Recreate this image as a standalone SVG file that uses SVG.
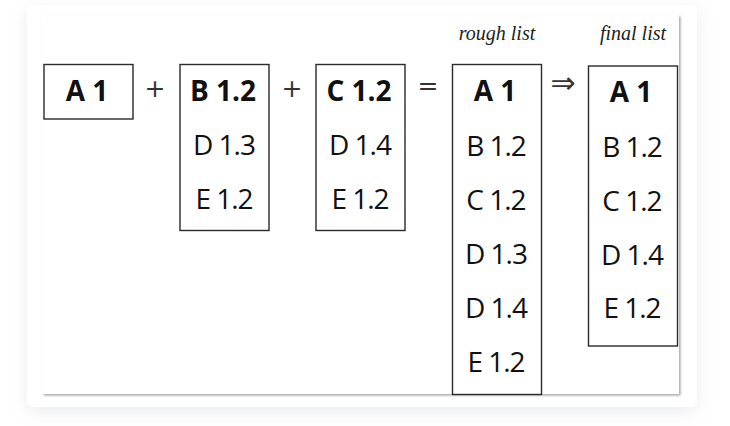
<svg xmlns="http://www.w3.org/2000/svg" width="730" height="426" viewBox="0 0 730 426">
<defs>
<filter id="cardShadow" x="-10%" y="-10%" width="120%" height="125%">
<feDropShadow dx="0" dy="4" stdDeviation="8" flood-color="#8a90a0" flood-opacity="0.18"/>
</filter>
<filter id="panelShadow" x="-5%" y="-5%" width="110%" height="110%">
<feDropShadow dx="1.5" dy="1.5" stdDeviation="1.2" flood-color="#000" flood-opacity="0.35"/>
</filter>
</defs>
<style>
.box{fill:#fff;stroke:#2a2a2a;stroke-width:1.4}
.item{font-family:"Open Sans","Noto Sans",sans-serif;font-size:28px;fill:#111;text-anchor:middle;letter-spacing:-1px}
.bold{font-weight:700;letter-spacing:0px}
.cap{font-family:"Liberation Serif",serif;font-style:italic;font-size:20px;fill:#222;text-anchor:middle}
.op{font-family:"DejaVu Sans",sans-serif;font-size:25px;fill:#333;text-anchor:middle}
.arr{font-size:30px}
</style>
<rect width="730" height="426" fill="#ffffff"/>
<rect x="27" y="5" width="670" height="402" rx="6" fill="#ffffff" filter="url(#cardShadow)"/>
<rect x="42" y="15" width="637" height="379" fill="#ffffff" filter="url(#panelShadow)"/>

<text class="cap" x="497" y="40">rough list</text>
<text class="cap" x="633" y="40">final list</text>

<g id="nodeA">
<rect class="box" x="44" y="64.5" width="89" height="54.5"/>
<text class="item bold" x="87" y="101">A 1</text>
</g>
<g id="nodeB">
<rect class="box" x="180" y="64.5" width="89" height="166"/>
<text class="item bold" x="223" y="101">B 1.2</text>
<text class="item" x="224" y="155">D 1.3</text>
<text class="item" x="224" y="209">E 1.2</text>
</g>
<g id="nodeC">
<rect class="box" x="316" y="64.5" width="89" height="166"/>
<text class="item bold" x="359" y="101">C 1.2</text>
<text class="item" x="360" y="155">D 1.4</text>
<text class="item" x="360" y="209">E 1.2</text>
</g>
<g id="roughList">
<rect class="box" x="452.5" y="64.5" width="89" height="330"/>
<text class="item bold" x="495" y="101">A 1</text>
<text class="item" x="496" y="156">B 1.2</text>
<text class="item" x="496" y="210">C 1.2</text>
<text class="item" x="496" y="264">D 1.3</text>
<text class="item" x="496" y="318">D 1.4</text>
<text class="item" x="496" y="372">E 1.2</text>
</g>
<g id="finalList">
<rect class="box" x="588.5" y="66" width="89" height="280"/>
<text class="item bold" x="631" y="102">A 1</text>
<text class="item" x="632" y="157">B 1.2</text>
<text class="item" x="632" y="211">C 1.2</text>
<text class="item" x="632" y="265">D 1.4</text>
<text class="item" x="632" y="318">E 1.2</text>
</g>
<g id="connectors">
<text class="op" x="155" y="97">+</text>
<text class="op" x="292" y="97">+</text>
<text class="op" x="428" y="94">=</text>
<text class="op arr" x="563" y="93">⇒</text>
</g>
</svg>
